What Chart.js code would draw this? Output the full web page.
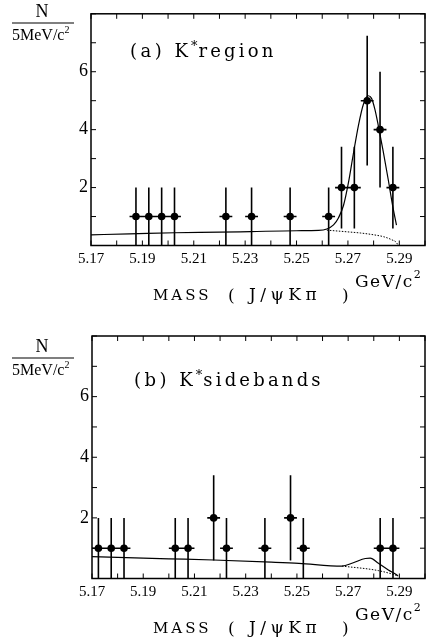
<!DOCTYPE html>
<html>
<head>
<meta charset="utf-8">
<script src="https://cdn.jsdelivr.net/npm/chart.js@4"></script>
<style>
  html, body { margin: 0; padding: 0; background: #fff; }
  canvas { display: block; }
</style>
</head>
<body>
<canvas id="chartA" width="432" height="320"></canvas>
<canvas id="chartB" width="432" height="320"></canvas>
<script>
'use strict';

// axis tick labels
const massTicks = [5.17, 5.19, 5.21, 5.23, 5.25, 5.27, 5.29];
const countTicks = [2, 4, 6];
const binHalfWidth = 0.0025;

// (a) K* region : data points
const regionMass = [5.1875, 5.1925, 5.1975, 5.2025, 5.2225, 5.2325, 5.2475, 5.2625, 5.2675, 5.2725, 5.2775, 5.2825, 5.2875];
const regionCounts = [1, 1, 1, 1, 1, 1, 1, 1, 2, 2, 5, 4, 2];
const regionErrors = [1, 1, 1, 1, 1, 1, 1, 1, 1.41, 1.41, 2.24, 2, 1.41];

// (a) fit curve (signal + background) and background alone
const regionFitMass = [5.17, 5.185, 5.2025, 5.22, 5.232, 5.25, 5.2586, 5.2618, 5.2644, 5.2663, 5.2683, 5.2702, 5.2721, 5.2741, 5.276, 5.2779, 5.2792, 5.2805, 5.2818, 5.2837, 5.2857, 5.2876, 5.2889];
const regionFitValue = [0.37, 0.40, 0.44, 0.46, 0.48, 0.51, 0.52, 0.57, 0.71, 0.95, 1.39, 2.17, 3.16, 4.15, 4.87, 5.17, 5.08, 4.70, 4.15, 3.27, 2.27, 1.28, 0.70];
const regionBgMass = [5.2618, 5.27, 5.275, 5.28, 5.284, 5.287, 5.289, 5.2895];
const regionBgValue = [0.53, 0.47, 0.43, 0.37, 0.30, 0.20, 0.09, 0.0];

// (b) K* sidebands : data points
const sideMass = [5.1725, 5.1775, 5.1825, 5.2025, 5.2075, 5.2175, 5.2225, 5.2375, 5.2475, 5.2525, 5.2825, 5.2875];
const sideCounts = [1, 1, 1, 1, 1, 2, 1, 1, 2, 1, 1, 1];
const sideErrors = [1, 1, 1, 1, 1, 1.41, 1, 1, 1.41, 1, 1, 1];

// (b) fit curve and background alone
const sideFitMass = [5.17, 5.20, 5.2175, 5.24, 5.2508, 5.2676, 5.272, 5.2767, 5.2786, 5.2818, 5.2857, 5.2889, 5.2895];
const sideFitValue = [0.72, 0.65, 0.61, 0.54, 0.50, 0.41, 0.52, 0.66, 0.67, 0.50, 0.28, 0.12, 0.08];
const sideBgMass = [5.2676, 5.2818, 5.2889, 5.2895];
const sideBgValue = [0.41, 0.26, 0.10, 0.08];

const ink = '#000';

function pairs(xs, ys) {
  return xs.map((x, i) => ({ x: x, y: ys[i] }));
}

function drawPieces(ctx, pieces, x, y) {
  // pieces: [text, font, raise, spacing]
  let cx = x;
  pieces.forEach(p => {
    ctx.font = p[1];
    ctx.letterSpacing = (p[3] || 0) + 'px';
    ctx.fillText(p[0], cx, y - (p[2] || 0));
    cx += ctx.measureText(p[0]).width;
  });
  ctx.letterSpacing = '0px';
}

const frameTicks = {
  id: 'frameTicks',
  afterDraw(chart) {
    const { ctx, chartArea: a, scales: { x, y } } = chart;
    ctx.save();
    ctx.strokeStyle = ink;
    ctx.lineWidth = 1.5;
    ctx.strokeRect(a.left, a.top, a.right - a.left, a.bottom - a.top);
    ctx.lineWidth = 1;
    ctx.beginPath();
    x.ticks.forEach(t => {
      const px = x.getPixelForValue(t.value);
      ctx.moveTo(px, a.bottom); ctx.lineTo(px, a.bottom - 5);
      ctx.moveTo(px, a.top); ctx.lineTo(px, a.top + 5);
    });
    y.ticks.forEach(t => {
      const py = y.getPixelForValue(t.value);
      ctx.moveTo(a.left, py); ctx.lineTo(a.left + 5, py);
      ctx.moveTo(a.right, py); ctx.lineTo(a.right - 5, py);
    });
    ctx.stroke();
    ctx.restore();
  }
};

const errorBars = {
  id: 'errorBars',
  afterDatasetsDraw(chart, args, opts) {
    const { ctx, scales: { x, y } } = chart;
    ctx.save();
    ctx.strokeStyle = ink;
    ctx.lineWidth = 1.6;
    ctx.beginPath();
    opts.mass.forEach((m, i) => {
      const n = opts.counts[i], e = opts.errors[i];
      const px = x.getPixelForValue(m), py = y.getPixelForValue(n);
      ctx.moveTo(px, y.getPixelForValue(Math.min(n + e, y.max)));
      ctx.lineTo(px, y.getPixelForValue(Math.max(n - e, 0)));
      ctx.moveTo(x.getPixelForValue(m - binHalfWidth), py);
      ctx.lineTo(x.getPixelForValue(m + binHalfWidth), py);
    });
    ctx.stroke();
    ctx.restore();
  }
};

const panelText = {
  id: 'panelText',
  afterDraw(chart, args, opts) {
    const { ctx, chartArea: a } = chart;
    const serif = '"DejaVu Serif", serif';
    ctx.save();
    ctx.fillStyle = ink;
    ctx.strokeStyle = ink;
    ctx.textBaseline = 'alphabetic';

    // y title: N over 5MeV/c^2
    ctx.textAlign = 'center';
    ctx.font = '18px "Liberation Serif"';
    ctx.fillText('N', 42, opts.nBase);
    ctx.lineWidth = 1.2;
    ctx.beginPath();
    ctx.moveTo(12, opts.nBase + 6); ctx.lineTo(74, opts.nBase + 6);
    ctx.stroke();
    ctx.textAlign = 'left';
    drawPieces(ctx, [['5MeV/c', '16px "Liberation Serif"'], ['2', '10px "Liberation Serif"', 7]], 12, opts.nBase + 23);

    // panel label
    drawPieces(ctx, [
      [opts.tag, '18px ' + serif, 0, 3.5],
      ['K', '18px ' + serif, 0, 3],
      ['*', '13px ' + serif, 7, 1],
      [opts.word, '18px ' + serif, 0, 3.2]
    ], opts.tagX, opts.tagBase);

    // axis unit and title
    drawPieces(ctx, [['GeV/c', '17px ' + serif, 0, 1.5], ['2', '11px ' + serif, 9]], 355, a.bottom + 41.5);
    drawPieces(ctx, [['MASS', '15px ' + serif, 0, 3]], 153, a.bottom + 54.5);
    drawPieces(ctx, [['(', '17px ' + serif]], 228, a.bottom + 55);
    drawPieces(ctx, [['J/ψKπ', '17px ' + serif, 0, 4.5]], 249, a.bottom + 54.5);
    drawPieces(ctx, [[')', '17px ' + serif]], 342, a.bottom + 55);
    ctx.restore();
  }
};

function makePanel(canvasId, pts, fit, bg, layout) {
  const data = {
    datasets: [
      {
        data: pairs(pts.mass, pts.counts),
        pointRadius: 3.8,
        pointBackgroundColor: ink,
        pointBorderWidth: 0,
        showLine: false
      },
      {
        data: pairs(fit.mass, fit.value),
        showLine: true,
        pointRadius: 0,
        borderColor: ink,
        borderWidth: 1.2,
        cubicInterpolationMode: 'monotone'
      },
      {
        data: pairs(bg.mass, bg.value),
        showLine: true,
        pointRadius: 0,
        borderColor: ink,
        borderWidth: 1,
        borderDash: [1.5, 1.5],
        cubicInterpolationMode: 'monotone'
      }
    ]
  };
  return new Chart(document.getElementById(canvasId), {
    type: 'scatter',
    data: data,
    plugins: [frameTicks, errorBars, panelText],
    options: {
      responsive: false,
      animation: false,
      events: [],
      layout: { padding: { top: layout.top, right: 7, left: 0, bottom: 0 } },
      scales: {
        x: {
          type: 'linear',
          min: 5.17,
          max: 5.30,
          grid: { display: false, drawTicks: false },
          border: { display: false },
          afterFit: s => { s.height = layout.xHeight; },
          ticks: {
            stepSize: 0.01,
            autoSkip: false,
            maxRotation: 0,
            padding: 5,
            color: ink,
            font: { family: '"Liberation Serif"', size: 15 },
            callback: v => {
              const t = massTicks.find(m => Math.abs(m - v) < 1e-6);
              return t === undefined ? '' : t.toFixed(2);
            }
          }
        },
        y: {
          min: 0,
          max: 8,
          grid: { display: false, drawTicks: false },
          border: { display: false },
          afterFit: s => { s.width = layout.yWidth; },
          ticks: {
            stepSize: 1,
            padding: 3,
            color: ink,
            font: { family: '"Liberation Serif"', size: 18 },
            callback: v => countTicks.includes(v) ? String(v) : ''
          }
        }
      },
      plugins: {
        legend: { display: false },
        tooltip: { enabled: false },
        errorBars: pts,
        panelText: layout.text
      }
    }
  });
}

makePanel('chartA',
  { mass: regionMass, counts: regionCounts, errors: regionErrors },
  { mass: regionFitMass, value: regionFitValue },
  { mass: regionBgMass, value: regionBgValue },
  { top: 4, xHeight: 74.5, yWidth: 91,
    text: { nBase: 17, tag: '(a) ', word: 'region', tagX: 130, tagBase: 57 } });

makePanel('chartB',
  { mass: sideMass, counts: sideCounts, errors: sideErrors },
  { mass: sideFitMass, value: sideFitValue },
  { mass: sideBgMass, value: sideBgValue },
  { top: 16, xHeight: 61.5, yWidth: 92,
    text: { nBase: 32, tag: '(b) ', word: 'sidebands', tagX: 134, tagBase: 66 } });
</script>
</body>
</html>
